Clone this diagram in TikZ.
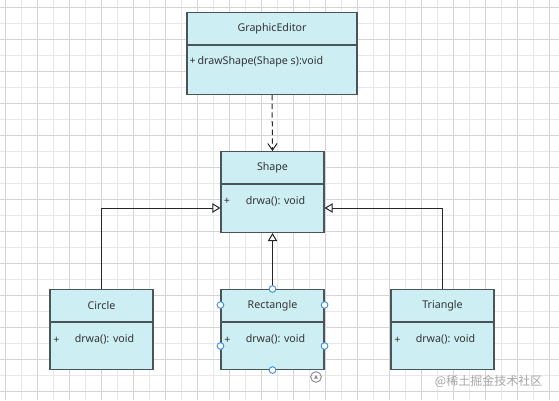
\documentclass[tikz,border=0pt]{standalone}
\usepackage{fontspec}
\setmainfont{Noto Sans}
\newfontfamily\cjk{Noto Sans CJK SC}
\usetikzlibrary{arrows.meta,calc}

\definecolor{boxfill}{HTML}{CDEFF4}
\definecolor{boxline}{HTML}{4A555A}
\definecolor{textgray}{HTML}{333333}
\definecolor{handleblue}{HTML}{3D8FE0}

\begin{document}
\begin{tikzpicture}[x=0.75pt, y=0.75pt, >=Stealth,
    font=\fontsize{8}{10}\selectfont, text=textgray,
    gridminor/.style={draw=black!9, line width=0.5pt},
    gridmajor/.style={draw=black!17, line width=0.5pt},
    umlclass/.style={draw=boxline, fill=boxfill, line width=0.8pt, anchor=north,
        minimum width=77.25pt, minimum height=60pt, inner sep=0pt},
    divider/.style={draw=boxline, line width=0.8pt},
    member/.style={inner sep=0pt},
    connector/.style={draw=black!85, line width=0.75pt},
    inherit/.style={connector, -{Triangle[open, length=6pt, width=7pt, fill=white]}},
    depend/.style={connector, dash pattern=on 4pt off 2.5pt, -{Straight Barb[length=5pt, width=7pt]}},
    handle/.style={draw=handleblue, fill=white, line width=0.7pt, circle, inner sep=0pt, minimum size=5pt}]

    \useasboundingbox (0,0) rectangle (559,400);
    \fill[white] (0,0) rectangle (559,400);

    % 1. 背景网格
    \foreach \x in {5,21,...,557} {
        \draw[gridminor] (\x,0) -- (\x,400);
    }
    \foreach \y in {9,25,...,393} {
        \draw[gridminor] (0,\y) -- (559,\y);
    }
    \foreach \x in {5,37,...,557} {
        \draw[gridmajor] (\x,0) -- (\x,400);
    }
    \foreach \y in {9,41,...,393} {
        \draw[gridmajor] (0,\y) -- (559,\y);
    }

    % 2. GraphicEditor 类
    \node[umlclass, minimum width=127.5pt, minimum height=61.5pt] (editor) at (272,388) {};
    \draw[divider] ($(editor.north west)+(0,-33)$) -- ($(editor.north east)+(0,-33)$);
    \node[member] at ($(editor.north)+(0,-16.5)$) {GraphicEditor};
    \node[member, anchor=west] at ($(editor.north west)+(3,-50)$) {+\,drawShape(Shape s):void};

    % 3. Shape 类
    \node[umlclass, minimum height=60.75pt] (shape) at (272.5,249) {};
    \draw[divider] ($(shape.north west)+(0,-33)$) -- ($(shape.north east)+(0,-33)$);
    \node[member] at ($(shape.north)+(0,-16.5)$) {Shape};
    \node[member] at ($(shape.north west)+(6.5,-50.5)$) {+};
    \node[member] at ($(shape.north)+(3,-50.5)$) {drwa(): void};

    % 4. 三个子类
    \foreach \name/\label/\x in {circle/Circle/101.5, rect/Rectangle/272.5, tri/Triangle/442.5} {
        \node[umlclass] (\name) at (\x,111) {};
        \draw[divider] ($(\name.north west)+(0,-33)$) -- ($(\name.north east)+(0,-33)$);
        \node[member] at ($(\name.north)+(0,-16.5)$) {\label};
        \node[member] at ($(\name.north west)+(7,-51)$) {+};
        \node[member] at ($(\name.north)+(3,-50)$) {drwa(): void};
    }

    % 5. 依赖与继承连线
    \draw[depend] (editor.south) -- (shape.north);
    \draw[inherit] (rect.north) -- (shape.south);
    \coordinate (cbend) at (circle.north |- 0,192);
    \coordinate (tbend) at (tri.north |- 0,192);
    \draw[inherit] (circle.north) -- (cbend) -- (cbend -| shape.west);
    \draw[inherit] (tri.north) -- (tbend) -- (tbend -| shape.east);

    % 6. Rectangle 的选中控制点
    \node[handle] at (rect.north) {};
    \node[handle] at (rect.south) {};
    \foreach \dy in {-16,-57} {
        \node[handle] at ($(rect.north west)+(0,\dy)$) {};
        \node[handle] at ($(rect.north east)+(0,\dy)$) {};
    }
    \node[circle, draw=black!45, line width=0.7pt, minimum size=8pt, inner sep=0pt] (rot) at (316,23) {};
    \fill[black!45] ($(rot.center)+(-2,-1.5)$) -- ($(rot.center)+(2,-1.5)$) -- ($(rot.center)+(0,2)$) -- cycle;

    % 7. 水印
    \node[anchor=east, text=black!35, font=\cjk\fontsize{9}{10}\selectfont] (mark) at (547,19) {@稀土掘金技术社区};

\end{tikzpicture}
\end{document}
